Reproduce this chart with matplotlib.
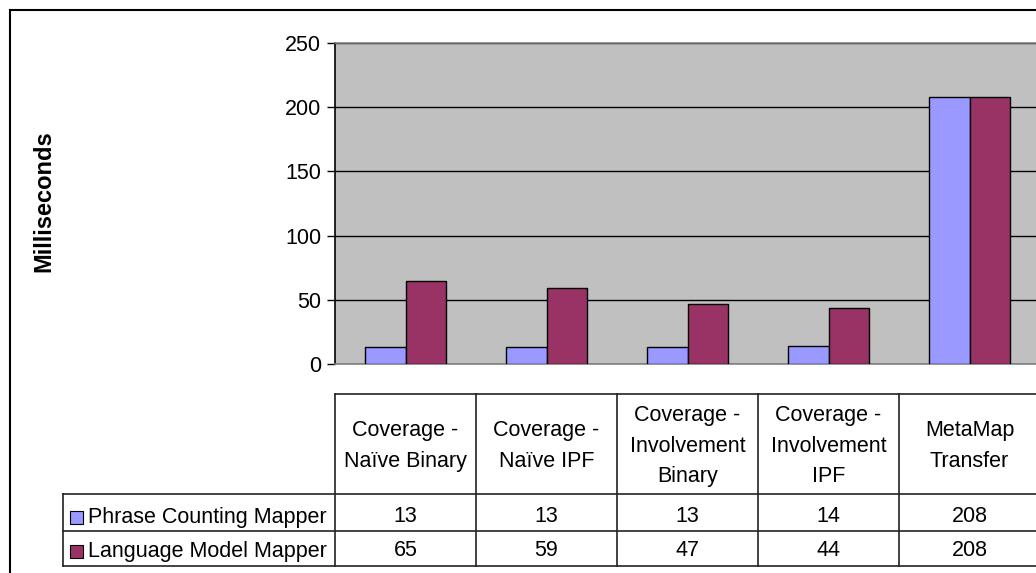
import matplotlib.pyplot as plt
import matplotlib.transforms as mtransforms
from matplotlib.patches import Rectangle
from matplotlib.lines import Line2D

plt.rcParams['font.family'] = ['Liberation Sans', 'DejaVu Sans']

categories = ["Coverage -\nNaïve Binary", "Coverage -\nNaïve IPF",
              "Coverage -\nInvolvement\nBinary", "Coverage -\nInvolvement\nIPF",
              "MetaMap\nTransfer"]
series_names = ["Phrase Counting Mapper", "Language Model Mapper"]
phrase_counting = [13, 13, 13, 14, 208]
language_model = [65, 59, 47, 44, 208]
colors = ["#9999FF", "#993366"]

W, H = 1036, 573
fig = plt.figure(figsize=(W / 100, H / 100), dpi=100)

def fx(px):
    return px / W

def fy(px):
    return 1 - px / H

# plot area runs a little past the right edge of the figure
ax = fig.add_axes([fx(335), fy(364), fx(1040) - fx(335), fy(43) - fy(364)])
ax.set_facecolor("#C0C0C0")

n = len(categories)
x = list(range(n))
bw = 0.284
ax.bar([i - bw / 2 for i in x], phrase_counting, bw, color=colors[0],
       edgecolor="black", linewidth=1, zorder=3)
ax.bar([i + bw / 2 for i in x], language_model, bw, color=colors[1],
       edgecolor="black", linewidth=1, zorder=3)

ax.set_xlim(-0.5, n - 0.5)
ax.set_ylim(0, 250)
ax.set_yticks([0, 50, 100, 150, 200, 250])
ax.set_xticks([])
ax.yaxis.grid(True, color="black", linewidth=1)
ax.set_axisbelow(True)
ax.tick_params(axis="y", direction="out", length=6, width=1, labelsize=15.5, pad=4)
ax.spines["left"].set_color("black")
ax.spines["top"].set_color("#808080")
ax.spines["bottom"].set_color("#808080")
ax.spines["right"].set_visible(False)
for s in ax.spines.values():
    s.set_linewidth(1.2)

fig.text(fx(44), fy(201), "Milliseconds", rotation=90, ha="center", va="center",
         fontsize=17, fontweight="bold")

# data table below the plot, columns follow the category axis
tr = mtransforms.blended_transform_factory(ax.transData, fig.transFigure)
top, hdr, r1, r2 = fy(394), fy(494), fy(531), fy(566)
lc = "#222222"
left_edge = -0.5 - (335 - 63) / 141
fig.add_artist(Line2D([-0.5, n + 0.5], [top, top], transform=tr, color=lc, lw=1.2))
for yy in (hdr, r1, r2):
    fig.add_artist(Line2D([left_edge, n + 0.5], [yy, yy], transform=tr, color=lc, lw=1.2))
fig.add_artist(Line2D([left_edge, left_edge], [hdr, r2], transform=tr, color=lc, lw=1.2))
for i in range(n + 1):
    fig.add_artist(Line2D([i - 0.5, i - 0.5], [top, r2], transform=tr, color=lc, lw=1.2))

fs = 15.5
for i, cat in enumerate(categories):
    fig.text(i, fy(446), cat, transform=tr, ha="center", va="center",
             fontsize=fs, linespacing=1.62)

rows = [phrase_counting, language_model]
row_y = [fy(517), fy(551)]
for name, vals, col, yc in zip(series_names, rows, colors, row_y):
    fig.add_artist(Rectangle((fx(70), yc - 6.5 / H), 13 / W, 13 / H,
                             transform=fig.transFigure, facecolor=col,
                             edgecolor="black", linewidth=0.8))
    fig.text(fx(88), yc, name, ha="left", va="center", fontsize=fs)
    for i, v in enumerate(vals):
        fig.text(i, yc, str(v), transform=tr, ha="center", va="center", fontsize=fs)

# outer chart border
fig.add_artist(Line2D([fx(10), 1.0], [fy(10), fy(10)], transform=fig.transFigure,
                      color="black", lw=1.5))
fig.add_artist(Line2D([fx(10), fx(10)], [fy(10), 0.0], transform=fig.transFigure,
                      color="black", lw=1.5))

fig.savefig("out.png", dpi=100)
